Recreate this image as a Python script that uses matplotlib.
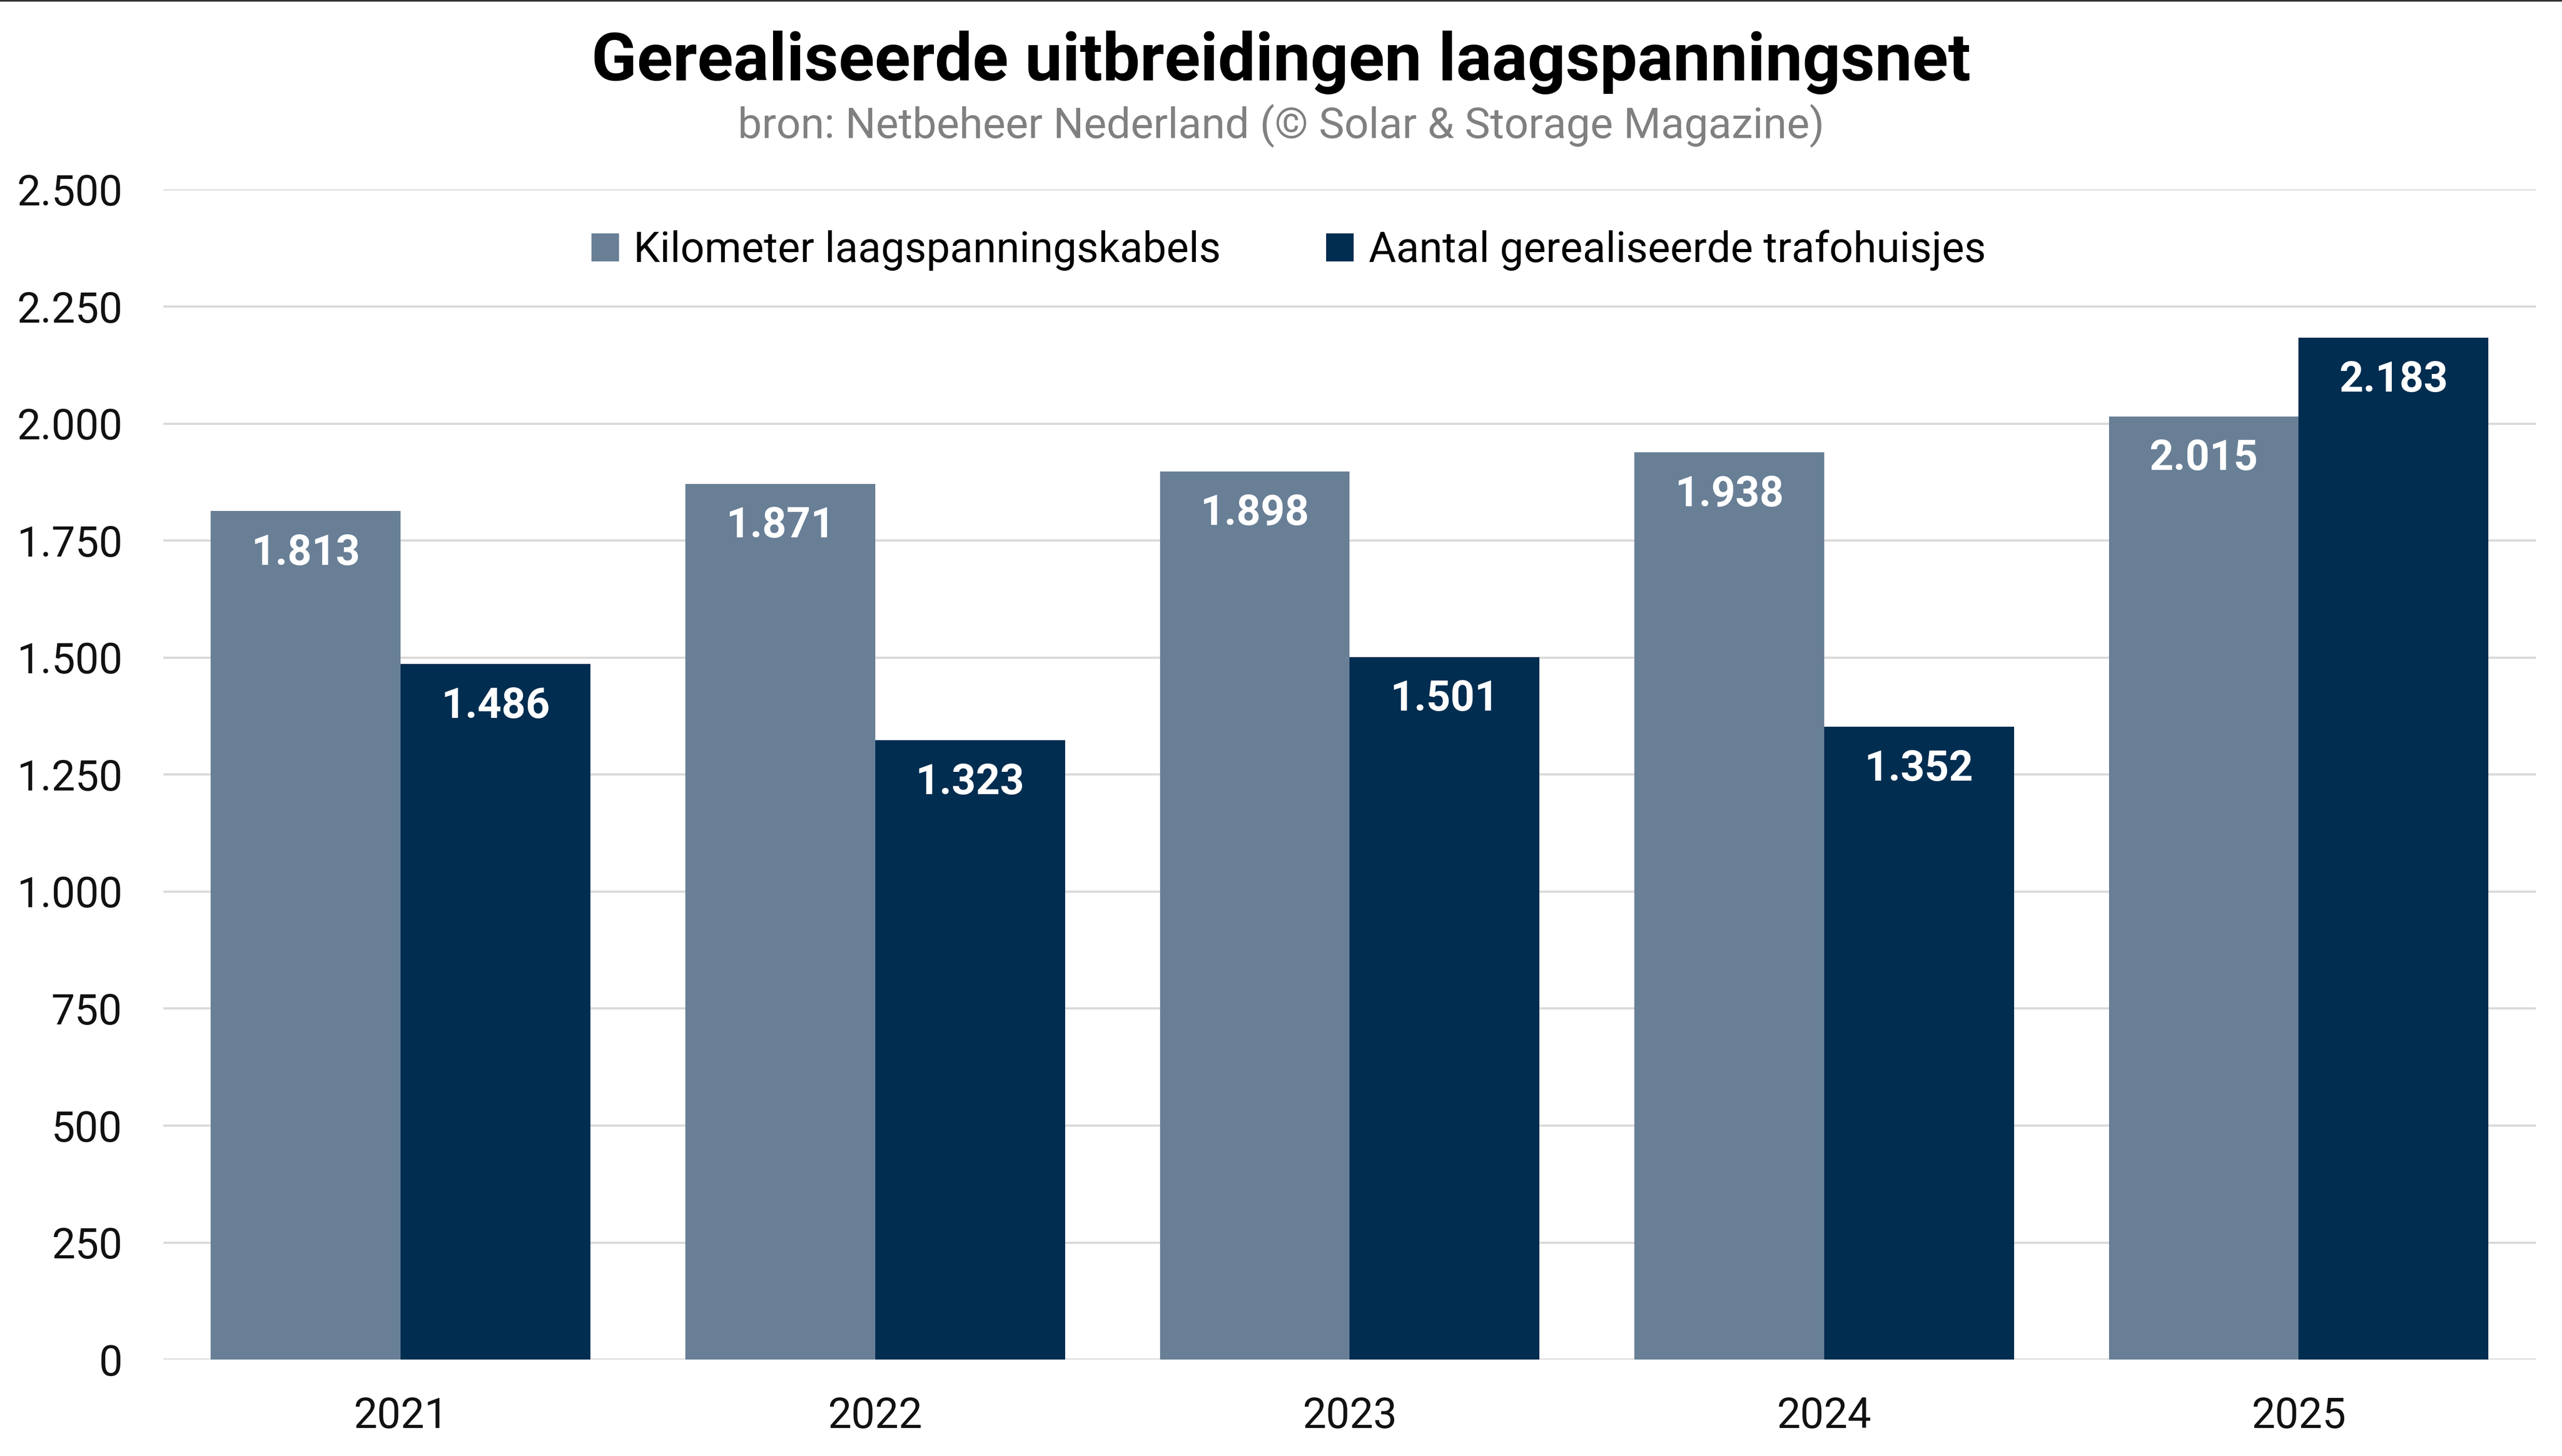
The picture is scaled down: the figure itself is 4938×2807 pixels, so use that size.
import numpy as np
import matplotlib.pyplot as plt
from matplotlib.lines import Line2D

years = ["2021", "2022", "2023", "2024", "2025"]
km_cables = [1813, 1871, 1898, 1938, 2015]
trafo_houses = [1486, 1323, 1501, 1352, 2183]
series_names = ["Kilometer laagspanningskabels", "Aantal gerealiseerde trafohuisjes"]
y_ticks = [0, 250, 500, 750, 1000, 1250, 1500, 1750, 2000, 2250, 2500]

light = "#687f96"
dark = "#002d50"

plt.rcParams['font.family'] = ['Roboto', 'DejaVu Sans']


def nl_fmt(v):
    return f"{v:,.0f}".replace(",", ".")


fig = plt.figure(figsize=(16.46, 9.357), dpi=300)
ax = fig.add_axes([0.0638, 0.0662, 0.926, 0.8036])

x = np.arange(len(years))
w = 0.4
b1 = ax.bar(x - w / 2, km_cables, w, color=light, label=series_names[0], zorder=2)
b2 = ax.bar(x + w / 2, trafo_houses, w, color=dark, label=series_names[1], zorder=2)

for bars in (b1, b2):
    for r in bars:
        h = r.get_height()
        ax.annotate(nl_fmt(h), (r.get_x() + r.get_width() / 2, h),
                    xytext=(0, -19.5), textcoords="offset points",
                    ha="center", va="center", color="white",
                    fontsize=19.5, fontweight="bold")

ax.set_xlim(-0.5, 4.5)
ax.set_ylim(0, 2500)
ax.set_yticks(y_ticks)
ax.set_yticklabels([nl_fmt(v) for v in y_ticks])
ax.set_xticks(x)
ax.set_xticklabels(years)
ax.tick_params(axis="y", length=0, pad=19, labelsize=19.5, labelcolor="#111111")
ax.tick_params(axis="x", length=0, pad=17, labelsize=19.5, labelcolor="#111111")
ax.grid(axis="y", color="#d9d9d9", linewidth=1.0, zorder=0)
for s in ax.spines.values():
    s.set_visible(False)

fig.legend(handles=[b1, b2], labels=series_names, loc="center",
           bbox_to_anchor=(0.503, 0.828), ncol=2, frameon=False,
           fontsize=19.5, handlelength=0.65, handleheight=0.65,
           handletextpad=0.35, columnspacing=2.5)

fig.text(0.5, 0.957, "Gerealiseerde uitbreidingen laagspanningsnet",
         ha="center", va="center", fontsize=30.8, fontweight="bold", color="black")
fig.text(0.5, 0.9135, "bron: Netbeheer Nederland (© Solar & Storage Magazine)",
         ha="center", va="center", fontsize=19.8, color="#808080")

fig.add_artist(Line2D([0, 1], [0.9995, 0.9995], color="#333333", linewidth=0.8,
                      transform=fig.transFigure))

fig.savefig("out.png", dpi=300)
